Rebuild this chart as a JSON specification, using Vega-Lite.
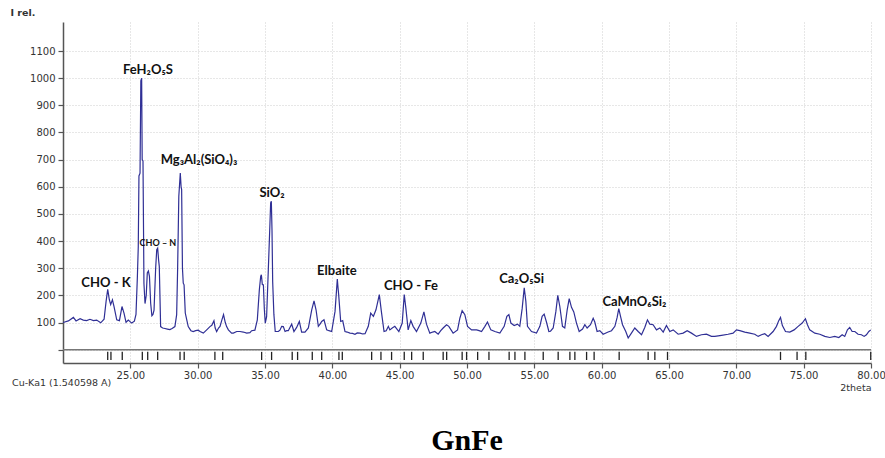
{
  "$schema": "https://vega.github.io/schema/vega-lite/v6.json",
  "width": 808,
  "height": 341,
  "autosize": "none",
  "padding": {"left": 63, "top": 22, "right": 14, "bottom": 95},
  "background": "white",
  "config": {"view": {"stroke": null}, "axis": {"labelOverlap": false}},
  "title": {"text": "GnFe", "orient": "bottom", "anchor": "middle", "font": "Liberation Serif", "fontSize": 30, "fontWeight": "bold", "color": "#000", "offset": 34},
  "datasets": {
    "spectrum": [
      {"theta":20.0,"I":100},{"theta":20.07,"I":101},{"theta":20.4,"I":106},{"theta":20.77,"I":119},{"theta":20.97,"I":106},
      {"theta":21.27,"I":114},{"theta":21.51,"I":109},{"theta":21.76,"I":107},{"theta":22.0,"I":112},{"theta":22.26,"I":107},
      {"theta":22.5,"I":109},{"theta":22.8,"I":99},{"theta":23.05,"I":112},{"theta":23.2,"I":178},{"theta":23.32,"I":222},
      {"theta":23.44,"I":184},{"theta":23.54,"I":166},{"theta":23.67,"I":184},{"theta":23.79,"I":159},{"theta":23.99,"I":110},
      {"theta":24.19,"I":107},{"theta":24.38,"I":159},{"theta":24.53,"I":135},{"theta":24.68,"I":101},{"theta":24.85,"I":109},
      {"theta":25.1,"I":98},{"theta":25.3,"I":105},{"theta":25.42,"I":130},{"theta":25.52,"I":264},{"theta":25.59,"I":380},
      {"theta":25.64,"I":640},{"theta":25.72,"I":650},{"theta":25.78,"I":990},{"theta":25.84,"I":1000},{"theta":25.88,"I":700},
      {"theta":25.94,"I":695},{"theta":26.01,"I":245},{"theta":26.09,"I":170},{"theta":26.18,"I":200},{"theta":26.26,"I":283},
      {"theta":26.34,"I":290},{"theta":26.42,"I":270},{"theta":26.51,"I":171},{"theta":26.6,"I":125},{"theta":26.68,"I":130},
      {"theta":26.76,"I":146},{"theta":26.88,"I":300},{"theta":26.96,"I":368},{"theta":27.03,"I":374},{"theta":27.1,"I":330},
      {"theta":27.15,"I":307},{"theta":27.25,"I":85},{"theta":27.4,"I":80},{"theta":27.57,"I":78},{"theta":27.75,"I":76},
      {"theta":27.94,"I":74},{"theta":28.1,"I":78},{"theta":28.31,"I":85},{"theta":28.44,"I":129},{"theta":28.51,"I":294},
      {"theta":28.6,"I":565},{"theta":28.71,"I":651},{"theta":28.77,"I":600},{"theta":28.81,"I":590},{"theta":28.87,"I":300},
      {"theta":28.93,"I":245},{"theta":28.99,"I":239},{"theta":29.08,"I":135},{"theta":29.19,"I":110},{"theta":29.3,"I":85},
      {"theta":29.5,"I":70},{"theta":29.67,"I":67},{"theta":29.85,"I":70},{"theta":30.04,"I":72},{"theta":30.18,"I":67},
      {"theta":30.42,"I":61},{"theta":30.67,"I":73},{"theta":30.91,"I":85},{"theta":31.05,"I":90},{"theta":31.21,"I":107},
      {"theta":31.3,"I":80},{"theta":31.41,"I":67},{"theta":31.55,"I":80},{"theta":31.66,"I":86},{"theta":31.8,"I":110},
      {"theta":31.92,"I":129},{"theta":32.05,"I":100},{"theta":32.15,"I":85},{"theta":32.28,"I":73},{"theta":32.52,"I":61},
      {"theta":32.65,"I":61},{"theta":32.9,"I":67},{"theta":33.14,"I":67},{"theta":33.39,"I":65},{"theta":33.64,"I":61},
      {"theta":33.88,"I":63},{"theta":34.01,"I":70},{"theta":34.25,"I":72},{"theta":34.43,"I":110},{"theta":34.58,"I":221},
      {"theta":34.68,"I":270},{"theta":34.73,"I":276},{"theta":34.8,"I":240},{"theta":34.88,"I":239},{"theta":34.95,"I":150},
      {"theta":35.02,"I":98},{"theta":35.12,"I":122},{"theta":35.25,"I":300},{"theta":35.35,"I":440},{"theta":35.42,"I":541},
      {"theta":35.47,"I":547},{"theta":35.52,"I":440},{"theta":35.57,"I":250},{"theta":35.66,"I":130},{"theta":35.76,"I":67},
      {"theta":35.99,"I":67},{"theta":36.11,"I":72},{"theta":36.24,"I":86},{"theta":36.36,"I":85},{"theta":36.49,"I":67},
      {"theta":36.61,"I":70},{"theta":36.73,"I":70},{"theta":36.98,"I":94},{"theta":37.15,"I":67},{"theta":37.35,"I":82},
      {"theta":37.55,"I":104},{"theta":37.72,"I":65},{"theta":37.97,"I":65},{"theta":38.22,"I":80},{"theta":38.47,"I":147},
      {"theta":38.64,"I":180},{"theta":38.79,"I":147},{"theta":38.96,"I":86},{"theta":39.1,"I":95},{"theta":39.21,"I":104},
      {"theta":39.38,"I":110},{"theta":39.58,"I":73},{"theta":39.75,"I":70},{"theta":39.95,"I":67},{"theta":40.2,"I":141},
      {"theta":40.37,"I":260},{"theta":40.42,"I":230},{"theta":40.47,"I":203},{"theta":40.62,"I":104},{"theta":40.77,"I":107},
      {"theta":40.94,"I":67},{"theta":41.1,"I":65},{"theta":41.31,"I":61},{"theta":41.5,"I":60},{"theta":41.68,"I":57},
      {"theta":41.85,"I":62},{"theta":42.06,"I":61},{"theta":42.25,"I":58},{"theta":42.43,"I":59},{"theta":42.67,"I":86},
      {"theta":42.85,"I":135},{"theta":43.05,"I":123},{"theta":43.24,"I":147},{"theta":43.49,"I":203},{"theta":43.64,"I":141},
      {"theta":43.84,"I":67},{"theta":44.0,"I":70},{"theta":44.16,"I":86},{"theta":44.27,"I":73},{"theta":44.45,"I":80},
      {"theta":44.64,"I":86},{"theta":44.94,"I":67},{"theta":45.19,"I":98},{"theta":45.34,"I":203},{"theta":45.46,"I":153},
      {"theta":45.63,"I":73},{"theta":45.83,"I":107},{"theta":46.0,"I":86},{"theta":46.25,"I":67},{"theta":46.57,"I":98},
      {"theta":46.8,"I":139},{"theta":46.99,"I":94},{"theta":47.24,"I":61},{"theta":47.45,"I":65},{"theta":47.61,"I":67},
      {"theta":47.86,"I":57},{"theta":48.05,"I":70},{"theta":48.23,"I":80},{"theta":48.48,"I":92},{"theta":48.65,"I":86},
      {"theta":48.97,"I":61},{"theta":49.3,"I":73},{"theta":49.47,"I":116},{"theta":49.64,"I":144},{"theta":49.84,"I":129},
      {"theta":50.04,"I":86},{"theta":50.34,"I":73},{"theta":50.71,"I":73},{"theta":50.9,"I":70},{"theta":51.08,"I":67},
      {"theta":51.33,"I":86},{"theta":51.52,"I":102},{"theta":51.77,"I":73},{"theta":52.07,"I":67},{"theta":52.44,"I":61},
      {"theta":52.76,"I":86},{"theta":52.96,"I":123},{"theta":53.11,"I":129},{"theta":53.26,"I":98},{"theta":53.5,"I":89},
      {"theta":53.75,"I":94},{"theta":53.92,"I":86},{"theta":54.1,"I":153},{"theta":54.25,"I":228},{"theta":54.37,"I":178},
      {"theta":54.49,"I":86},{"theta":54.79,"I":67},{"theta":55.16,"I":61},{"theta":55.41,"I":86},{"theta":55.58,"I":123},
      {"theta":55.73,"I":131},{"theta":55.9,"I":102},{"theta":56.08,"I":67},{"theta":56.2,"I":68},{"theta":56.4,"I":80},
      {"theta":56.6,"I":141},{"theta":56.74,"I":200},{"theta":56.89,"I":160},{"theta":57.09,"I":86},{"theta":57.26,"I":80},
      {"theta":57.44,"I":147},{"theta":57.59,"I":188},{"theta":57.76,"I":156},{"theta":57.93,"I":139},{"theta":58.13,"I":98},
      {"theta":58.33,"I":67},{"theta":58.58,"I":76},{"theta":58.75,"I":92},{"theta":58.92,"I":80},{"theta":59.17,"I":92},
      {"theta":59.37,"I":116},{"theta":59.49,"I":102},{"theta":59.66,"I":67},{"theta":59.86,"I":70},{"theta":60.11,"I":57},
      {"theta":60.48,"I":65},{"theta":60.73,"I":70},{"theta":60.98,"I":86},{"theta":61.15,"I":119},{"theta":61.27,"I":151},
      {"theta":61.4,"I":123},{"theta":61.55,"I":92},{"theta":61.79,"I":67},{"theta":61.97,"I":43},{"theta":62.21,"I":61},
      {"theta":62.46,"I":80},{"theta":62.71,"I":67},{"theta":62.96,"I":55},{"theta":63.2,"I":82},{"theta":63.4,"I":110},
      {"theta":63.58,"I":94},{"theta":63.82,"I":92},{"theta":64.07,"I":73},{"theta":64.32,"I":80},{"theta":64.57,"I":65},
      {"theta":64.81,"I":89},{"theta":65.06,"I":67},{"theta":65.31,"I":73},{"theta":65.68,"I":57},{"theta":66.05,"I":61},
      {"theta":66.35,"I":70},{"theta":66.67,"I":61},{"theta":67.04,"I":49},{"theta":67.41,"I":55},{"theta":67.78,"I":57},
      {"theta":68.15,"I":49},{"theta":68.4,"I":49},{"theta":68.9,"I":53},{"theta":69.39,"I":57},{"theta":69.76,"I":61},
      {"theta":70.01,"I":73},{"theta":70.26,"I":70},{"theta":70.63,"I":65},{"theta":71.0,"I":61},{"theta":71.37,"I":57},
      {"theta":71.62,"I":49},{"theta":71.87,"I":55},{"theta":72.11,"I":59},{"theta":72.36,"I":49},{"theta":72.73,"I":67},
      {"theta":72.98,"I":86},{"theta":73.15,"I":107},{"theta":73.28,"I":119},{"theta":73.42,"I":89},{"theta":73.65,"I":67},
      {"theta":73.97,"I":65},{"theta":74.29,"I":73},{"theta":74.59,"I":86},{"theta":74.89,"I":98},{"theta":75.13,"I":114},
      {"theta":75.28,"I":92},{"theta":75.45,"I":73},{"theta":75.83,"I":61},{"theta":76.2,"I":57},{"theta":76.57,"I":49},
      {"theta":76.94,"I":45},{"theta":77.31,"I":49},{"theta":77.61,"I":45},{"theta":77.86,"I":55},{"theta":78.05,"I":49},
      {"theta":78.25,"I":73},{"theta":78.42,"I":82},{"theta":78.6,"I":67},{"theta":78.8,"I":67},{"theta":79.04,"I":57},
      {"theta":79.29,"I":55},{"theta":79.49,"I":49},{"theta":79.66,"I":55},{"theta":79.84,"I":67},{"theta":79.98,"I":73}
    ],
    "sticks": [
      {"theta":23.32},{"theta":23.56},{"theta":24.40},{"theta":25.89},{"theta":26.29},{"theta":27.03},{"theta":28.69},{"theta":29.00},
      {"theta":31.28},{"theta":31.86},{"theta":34.75},{"theta":35.49},{"theta":37.02},{"theta":37.42},{"theta":38.51},{"theta":39.21},
      {"theta":40.49},{"theta":40.74},{"theta":42.92},{"theta":43.61},{"theta":44.40},{"theta":45.34},{"theta":45.89},{"theta":46.75},
      {"theta":48.23},{"theta":48.49},{"theta":49.64},{"theta":49.97},{"theta":50.79},{"theta":51.63},{"theta":53.13},{"theta":53.56},
      {"theta":54.30},{"theta":55.66},{"theta":56.77},{"theta":57.64},{"theta":58.01},{"theta":58.88},{"theta":59.44},{"theta":61.30},
      {"theta":63.45},{"theta":63.95},{"theta":64.89},{"theta":73.28},{"theta":74.51},{"theta":75.16},{"theta":79.98}
    ],
    "baseline": [
      {"theta":20,"I":0},{"theta":80,"I":0}
    ],
    "labels": [
      {"theta":23.19,"I":246,"label":"CHO - K"},
      {"theta":26.31,"I":1032,"label":"FeH₂O₅S"},
      {"theta":30.10,"I":700,"label":"Mg₃Al₂(SiO₄)₃"},
      {"theta":35.52,"I":579,"label":"SiO₂"},
      {"theta":40.34,"I":291,"label":"Elbaite"},
      {"theta":45.84,"I":235,"label":"CHO - Fe"},
      {"theta":54.05,"I":261,"label":"Ca₂O₅Si"},
      {"theta":62.43,"I":176,"label":"CaMnO₆Si₂"}
    ],
    "smalllabels": [
      {"theta":27.05,"I":394,"label":"CHO – N"}
    ],
    "notes": [
      {"theta":20,"I":-49,"label":"Cu-Ka1 (1.540598 A)"}
    ]
  },
  "layer": [
    {
      "data": {"name": "spectrum"},
      "mark": {"type": "line", "color": "#2f2f95", "strokeWidth": 1.2, "interpolate": "linear"},
      "encoding": {
        "x": {"field": "theta", "type": "quantitative",
              "scale": {"domain": [20, 80], "nice": false, "zero": false},
              "axis": {"values": [25,30,35,40,45,50,55,60,65,70,75,80], "format": ".2f", "labelOverlap": false, "grid": true, "gridColor": "#cfcfcf", "gridDash": [1,2], "gridWidth": 1, "domainColor": "#555", "domainWidth": 1.5, "tickColor": "#555", "tickSize": 5, "tickWidth": 1.2, "labelFont": "DejaVu Sans", "labelFontSize": 10, "labelColor": "#333", "labelPadding": 2, "labelFlush": false, "title": "2theta", "titleFont": "DejaVu Sans", "titleFontSize": 9.5, "titleFontWeight": "normal", "titleColor": "#333", "titleAnchor": "end", "titleAlign": "right", "titlePadding": 2}},
        "y": {"field": "I", "type": "quantitative",
              "scale": {"domain": [-49, 1207], "nice": false, "zero": false},
              "axis": {"values": [0,100,200,300,400,500,600,700,800,900,1000,1100], "labelOverlap": false, "labelExpr": "datum.value == 0 ? '' : format(datum.value, 'd')", "grid": true, "gridColor": "#cfcfcf", "gridDash": [1,2], "gridWidth": 1, "domainColor": "#555", "domainWidth": 1.5, "tickColor": "#555", "tickSize": 5, "tickWidth": 1.2, "labelFont": "DejaVu Sans", "labelFontSize": 10, "labelColor": "#333", "labelPadding": 3, "title": "I rel.", "titleFont": "DejaVu Sans", "titleFontSize": 9.5, "titleFontWeight": "bold", "titleColor": "#333", "titleAngle": 0, "titleAlign": "left", "titleBaseline": "middle", "titleX": -53, "titleY": -10}}
      }
    },
    {
      "data": {"name": "baseline"},
      "mark": {"type": "line", "color": "#777", "strokeWidth": 1.5},
      "encoding": {
        "x": {"field": "theta", "type": "quantitative",
              "axis": {"values": [25,30,35,40,45,50,55,60,65,70,75,80], "format": ".2f", "labelOverlap": false, "grid": true, "gridColor": "#cfcfcf", "gridDash": [1,2], "gridWidth": 1, "domainColor": "#555", "domainWidth": 1.5, "tickColor": "#555", "tickSize": 5, "tickWidth": 1.2, "labelFont": "DejaVu Sans", "labelFontSize": 10, "labelColor": "#333", "labelPadding": 2, "labelFlush": false, "title": "2theta", "titleFont": "DejaVu Sans", "titleFontSize": 9.5, "titleFontWeight": "normal", "titleColor": "#333", "titleAnchor": "end", "titleAlign": "right", "titlePadding": 2}},
        "y": {"field": "I", "type": "quantitative",
              "axis": {"values": [0,100,200,300,400,500,600,700,800,900,1000,1100], "labelOverlap": false, "labelExpr": "datum.value == 0 ? '' : format(datum.value, 'd')", "grid": true, "gridColor": "#cfcfcf", "gridDash": [1,2], "gridWidth": 1, "domainColor": "#555", "domainWidth": 1.5, "tickColor": "#555", "tickSize": 5, "tickWidth": 1.2, "labelFont": "DejaVu Sans", "labelFontSize": 10, "labelColor": "#333", "labelPadding": 3, "title": "I rel.", "titleFont": "DejaVu Sans", "titleFontSize": 9.5, "titleFontWeight": "bold", "titleColor": "#333", "titleAngle": 0, "titleAlign": "left", "titleBaseline": "middle", "titleX": -53, "titleY": -10}}
      }
    },
    {
      "data": {"name": "sticks"},
      "mark": {"type": "rule", "color": "#222", "strokeWidth": 1.3},
      "encoding": {
        "x": {"field": "theta", "type": "quantitative",
              "axis": {"values": [25,30,35,40,45,50,55,60,65,70,75,80], "format": ".2f", "labelOverlap": false, "grid": true, "gridColor": "#cfcfcf", "gridDash": [1,2], "gridWidth": 1, "domainColor": "#555", "domainWidth": 1.5, "tickColor": "#555", "tickSize": 5, "tickWidth": 1.2, "labelFont": "DejaVu Sans", "labelFontSize": 10, "labelColor": "#333", "labelPadding": 2, "labelFlush": false, "title": "2theta", "titleFont": "DejaVu Sans", "titleFontSize": 9.5, "titleFontWeight": "normal", "titleColor": "#333", "titleAnchor": "end", "titleAlign": "right", "titlePadding": 2}},
        "y": {"datum": -8,
              "axis": {"values": [0,100,200,300,400,500,600,700,800,900,1000,1100], "labelOverlap": false, "labelExpr": "datum.value == 0 ? '' : format(datum.value, 'd')", "grid": true, "gridColor": "#cfcfcf", "gridDash": [1,2], "gridWidth": 1, "domainColor": "#555", "domainWidth": 1.5, "tickColor": "#555", "tickSize": 5, "tickWidth": 1.2, "labelFont": "DejaVu Sans", "labelFontSize": 10, "labelColor": "#333", "labelPadding": 3, "title": "I rel.", "titleFont": "DejaVu Sans", "titleFontSize": 9.5, "titleFontWeight": "bold", "titleColor": "#333", "titleAngle": 0, "titleAlign": "left", "titleBaseline": "middle", "titleX": -53, "titleY": -10}},
        "y2": {"datum": -38}
      }
    },
    {
      "data": {"name": "labels"},
      "mark": {"type": "text", "font": "Lato", "fontWeight": "bold", "fontSize": 13, "color": "#111", "align": "center", "baseline": "middle"},
      "encoding": {
        "x": {"field": "theta", "type": "quantitative",
              "axis": {"values": [25,30,35,40,45,50,55,60,65,70,75,80], "format": ".2f", "labelOverlap": false, "grid": true, "gridColor": "#cfcfcf", "gridDash": [1,2], "gridWidth": 1, "domainColor": "#555", "domainWidth": 1.5, "tickColor": "#555", "tickSize": 5, "tickWidth": 1.2, "labelFont": "DejaVu Sans", "labelFontSize": 10, "labelColor": "#333", "labelPadding": 2, "labelFlush": false, "title": "2theta", "titleFont": "DejaVu Sans", "titleFontSize": 9.5, "titleFontWeight": "normal", "titleColor": "#333", "titleAnchor": "end", "titleAlign": "right", "titlePadding": 2}},
        "y": {"field": "I", "type": "quantitative",
              "axis": {"values": [0,100,200,300,400,500,600,700,800,900,1000,1100], "labelOverlap": false, "labelExpr": "datum.value == 0 ? '' : format(datum.value, 'd')", "grid": true, "gridColor": "#cfcfcf", "gridDash": [1,2], "gridWidth": 1, "domainColor": "#555", "domainWidth": 1.5, "tickColor": "#555", "tickSize": 5, "tickWidth": 1.2, "labelFont": "DejaVu Sans", "labelFontSize": 10, "labelColor": "#333", "labelPadding": 3, "title": "I rel.", "titleFont": "DejaVu Sans", "titleFontSize": 9.5, "titleFontWeight": "bold", "titleColor": "#333", "titleAngle": 0, "titleAlign": "left", "titleBaseline": "middle", "titleX": -53, "titleY": -10}},
        "text": {"field": "label"}
      }
    },
    {
      "data": {"name": "smalllabels"},
      "mark": {"type": "text", "font": "Lato", "fontWeight": "bold", "fontSize": 9, "color": "#111", "align": "center", "baseline": "middle"},
      "encoding": {
        "x": {"field": "theta", "type": "quantitative",
              "axis": {"values": [25,30,35,40,45,50,55,60,65,70,75,80], "format": ".2f", "labelOverlap": false, "grid": true, "gridColor": "#cfcfcf", "gridDash": [1,2], "gridWidth": 1, "domainColor": "#555", "domainWidth": 1.5, "tickColor": "#555", "tickSize": 5, "tickWidth": 1.2, "labelFont": "DejaVu Sans", "labelFontSize": 10, "labelColor": "#333", "labelPadding": 2, "labelFlush": false, "title": "2theta", "titleFont": "DejaVu Sans", "titleFontSize": 9.5, "titleFontWeight": "normal", "titleColor": "#333", "titleAnchor": "end", "titleAlign": "right", "titlePadding": 2}},
        "y": {"field": "I", "type": "quantitative",
              "axis": {"values": [0,100,200,300,400,500,600,700,800,900,1000,1100], "labelOverlap": false, "labelExpr": "datum.value == 0 ? '' : format(datum.value, 'd')", "grid": true, "gridColor": "#cfcfcf", "gridDash": [1,2], "gridWidth": 1, "domainColor": "#555", "domainWidth": 1.5, "tickColor": "#555", "tickSize": 5, "tickWidth": 1.2, "labelFont": "DejaVu Sans", "labelFontSize": 10, "labelColor": "#333", "labelPadding": 3, "title": "I rel.", "titleFont": "DejaVu Sans", "titleFontSize": 9.5, "titleFontWeight": "bold", "titleColor": "#333", "titleAngle": 0, "titleAlign": "left", "titleBaseline": "middle", "titleX": -53, "titleY": -10}},
        "text": {"field": "label"}
      }
    },
    {
      "data": {"name": "notes"},
      "mark": {"type": "text", "font": "DejaVu Sans", "fontSize": 9.5, "color": "#333", "align": "left", "baseline": "middle", "dx": -51, "dy": 20},
      "encoding": {
        "x": {"field": "theta", "type": "quantitative",
              "axis": {"values": [25,30,35,40,45,50,55,60,65,70,75,80], "format": ".2f", "labelOverlap": false, "grid": true, "gridColor": "#cfcfcf", "gridDash": [1,2], "gridWidth": 1, "domainColor": "#555", "domainWidth": 1.5, "tickColor": "#555", "tickSize": 5, "tickWidth": 1.2, "labelFont": "DejaVu Sans", "labelFontSize": 10, "labelColor": "#333", "labelPadding": 2, "labelFlush": false, "title": "2theta", "titleFont": "DejaVu Sans", "titleFontSize": 9.5, "titleFontWeight": "normal", "titleColor": "#333", "titleAnchor": "end", "titleAlign": "right", "titlePadding": 2}},
        "y": {"field": "I", "type": "quantitative",
              "axis": {"values": [0,100,200,300,400,500,600,700,800,900,1000,1100], "labelOverlap": false, "labelExpr": "datum.value == 0 ? '' : format(datum.value, 'd')", "grid": true, "gridColor": "#cfcfcf", "gridDash": [1,2], "gridWidth": 1, "domainColor": "#555", "domainWidth": 1.5, "tickColor": "#555", "tickSize": 5, "tickWidth": 1.2, "labelFont": "DejaVu Sans", "labelFontSize": 10, "labelColor": "#333", "labelPadding": 3, "title": "I rel.", "titleFont": "DejaVu Sans", "titleFontSize": 9.5, "titleFontWeight": "bold", "titleColor": "#333", "titleAngle": 0, "titleAlign": "left", "titleBaseline": "middle", "titleX": -53, "titleY": -10}},
        "text": {"field": "label"}
      }
    }
  ]
}
